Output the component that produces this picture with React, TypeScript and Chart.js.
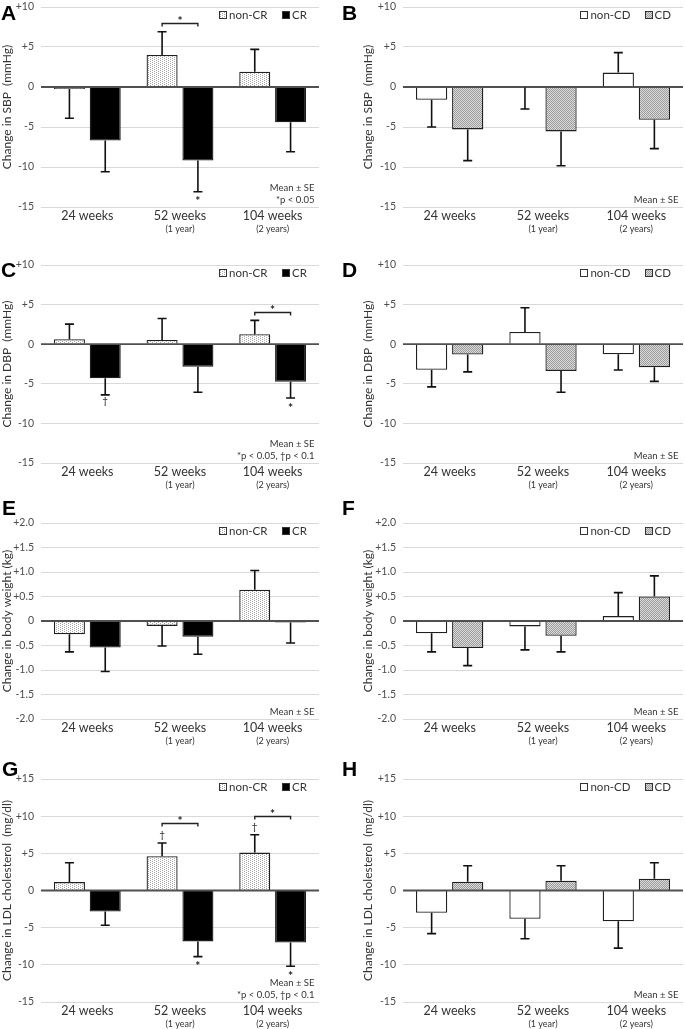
import React, { useEffect, useRef } from 'react';
import { Chart, registerables } from 'chart.js';
Chart.register(...registerables);

const FONT = 'Lato, "Open Sans", sans-serif';

const categories = ['24 weeks', '52 weeks', '104 weeks'];
const subLabels = ['', '(1 year)', '(2 years)'];

const bpTicks = [-15, -10, -5, 0, 5, 10];
const bwTicks = [-2, -1.5, -1, -0.5, 0, 0.5, 1, 1.5, 2];
const ldlTicks = [-15, -10, -5, 0, 5, 10, 15];

// A: SBP by CR
const sbpNonCR = [-0.25, 4.0, 1.9];
const sbpNonCRSE = [3.65, 2.9, 2.8];
const sbpCR = [-6.7, -9.2, -4.4];
const sbpCRSE = [3.9, 3.9, 3.7];
// B: SBP by CD
const sbpNonCD = [-1.6, -0.05, 1.8];
const sbpNonCDSE = [3.4, 2.7, 2.5];
const sbpCD = [-5.3, -5.55, -4.1];
const sbpCDSE = [3.9, 4.3, 3.6];
// C: DBP by CR
const dbpNonCR = [0.63, 0.54, 1.26];
const dbpNonCRSE = [1.9, 2.7, 1.75];
const dbpCR = [-4.3, -2.86, -4.75];
const dbpCRSE = [2.1, 3.2, 2.05];
// D: DBP by CD
const dbpNonCD = [-3.24, 1.55, -1.26];
const dbpNonCDSE = [2.15, 3.05, 2.0];
const dbpCD = [-1.3, -3.37, -2.9];
const dbpCDSE = [2.2, 2.7, 1.8];
// E: body weight by CR
const bwNonCR = [-0.27, -0.1, 0.64];
const bwNonCRSE = [0.36, 0.41, 0.39];
const bwCR = [-0.54, -0.32, -0.03];
const bwCRSE = [0.49, 0.36, 0.42];
// F: body weight by CD
const bwNonCD = [-0.25, -0.11, 0.1];
const bwNonCDSE = [0.38, 0.48, 0.48];
const bwCD = [-0.55, -0.3, 0.5];
const bwCDSE = [0.36, 0.33, 0.42];
// G: LDL by CR
const ldlNonCR = [1.13, 4.6, 5.1];
const ldlNonCRSE = [2.6, 1.8, 2.4];
const ldlCR = [-2.84, -6.85, -7.0];
const ldlCRSE = [1.84, 2.05, 3.2];
// H: LDL by CD
const ldlNonCD = [-3.0, -3.8, -4.15];
const ldlNonCDSE = [2.8, 2.7, 3.6];
const ldlCD = [1.17, 1.3, 1.58];
const ldlCDSE = [2.16, 2.03, 2.16];

type Mark = { kind: 'bracket' | 'above' | 'below'; cat: number; ds?: number; at?: number; text: string };

const sbpCRMarks: Mark[] = [
  { kind: 'bracket', cat: 1, at: 8.04, text: '*' },
  { kind: 'below', cat: 1, ds: 1, text: '*' },
];
const dbpCRMarks: Mark[] = [
  { kind: 'bracket', cat: 2, at: 4.11, text: '*' },
  { kind: 'below', cat: 0, ds: 1, text: '†' },
  { kind: 'below', cat: 2, ds: 1, text: '*' },
];
const ldlCRMarks: Mark[] = [
  { kind: 'bracket', cat: 1, at: 9.08, text: '*' },
  { kind: 'bracket', cat: 2, at: 9.99, text: '*' },
  { kind: 'above', cat: 1, ds: 0, text: '†' },
  { kind: 'above', cat: 2, ds: 0, text: '†' },
  { kind: 'below', cat: 1, ds: 1, text: '*' },
  { kind: 'below', cat: 2, ds: 1, text: '*' },
];

const notesSig1 = ['Mean ± SE', '*p < 0.05'];
const notesSig2 = ['Mean ± SE', '*p < 0.05, †p < 0.1'];
const notesPlain = ['Mean ± SE'];

type Fill = 'dots' | 'black' | 'white' | 'grey';
type Series = { label: string; data: number[]; se: number[]; fill: Fill };
type PanelDef = {
  letter: string;
  letterX: number;
  letterY: number;
  x: number;
  y: number;
  w: number;
  h: number;
  chartTop: number;
  chartBottom: number;
  chartLeft: number;
  chartRight: number;
  yTitle: string;
  titlePad: number;
  ticks: number[];
  decimals: number;
  series: Series[];
  marks: Mark[];
  notes: string[];
};

const crSeries = (a: number[], ase: number[], b: number[], bse: number[]): Series[] => [
  { label: 'non-CR', data: a, se: ase, fill: 'dots' },
  { label: 'CR', data: b, se: bse, fill: 'black' },
];
const cdSeries = (a: number[], ase: number[], b: number[], bse: number[]): Series[] => [
  { label: 'non-CD', data: a, se: ase, fill: 'white' },
  { label: 'CD', data: b, se: bse, fill: 'grey' },
];

const LEFT = { x: 0, w: 340, chartLeft: 41, chartRight: 319, titlePad: 0 };
const RIGHT = { x: 340, w: 345, chartLeft: 63, chartRight: 343, titlePad: 21 };
const ROW1 = { y: 0, h: 245, chartTop: 7, chartBottom: 207 };
const ROW2 = { y: 250, h: 251, chartTop: 15, chartBottom: 213 };
const ROW3 = { y: 505, h: 252, chartTop: 18, chartBottom: 214 };
const ROW4 = { y: 765, h: 264, chartTop: 14, chartBottom: 237 };

const panels: PanelDef[] = [
  { letter: 'A', letterX: 2, letterY: 5, ...LEFT, ...ROW1, yTitle: 'Change in SBP  (mmHg)', ticks: bpTicks, decimals: 0,
    series: crSeries(sbpNonCR, sbpNonCRSE, sbpCR, sbpCRSE), marks: sbpCRMarks, notes: notesSig1 },
  { letter: 'B', letterX: 343, letterY: 5, ...RIGHT, ...ROW1, yTitle: 'Change in SBP  (mmHg)', ticks: bpTicks, decimals: 0,
    series: cdSeries(sbpNonCD, sbpNonCDSE, sbpCD, sbpCDSE), marks: [], notes: notesPlain },
  { letter: 'C', letterX: 2, letterY: 262, ...LEFT, ...ROW2, yTitle: 'Change in DBP  (mmHg)', ticks: bpTicks, decimals: 0,
    series: crSeries(dbpNonCR, dbpNonCRSE, dbpCR, dbpCRSE), marks: dbpCRMarks, notes: notesSig2 },
  { letter: 'D', letterX: 343, letterY: 262, ...RIGHT, ...ROW2, yTitle: 'Change in DBP  (mmHg)', ticks: bpTicks, decimals: 0,
    series: cdSeries(dbpNonCD, dbpNonCDSE, dbpCD, dbpCDSE), marks: [], notes: notesPlain },
  { letter: 'E', letterX: 3, letterY: 500, ...LEFT, ...ROW3, yTitle: 'Change in body weight (kg)', ticks: bwTicks, decimals: 1,
    series: crSeries(bwNonCR, bwNonCRSE, bwCR, bwCRSE), marks: [], notes: notesPlain },
  { letter: 'F', letterX: 343, letterY: 500, ...RIGHT, ...ROW3, yTitle: 'Change in body weight (kg)', ticks: bwTicks, decimals: 1,
    series: cdSeries(bwNonCD, bwNonCDSE, bwCD, bwCDSE), marks: [], notes: notesPlain },
  { letter: 'G', letterX: 3, letterY: 761, ...LEFT, ...ROW4, yTitle: 'Change in LDL cholesterol  (mg/dl)', ticks: ldlTicks, decimals: 0,
    series: crSeries(ldlNonCR, ldlNonCRSE, ldlCR, ldlCRSE), marks: ldlCRMarks, notes: notesSig2 },
  { letter: 'H', letterX: 343, letterY: 761, ...RIGHT, ...ROW4, yTitle: 'Change in LDL cholesterol  (mg/dl)', ticks: ldlTicks, decimals: 0,
    series: cdSeries(ldlNonCD, ldlNonCDSE, ldlCD, ldlCDSE), marks: [], notes: notesPlain },
];

function makePattern(cells: string[][]): CanvasPattern | string {
  const c = document.createElement('canvas');
  c.width = cells[0].length;
  c.height = cells.length;
  const g = c.getContext('2d');
  if (!g) return '#ddd';
  cells.forEach((row, yy) =>
    row.forEach((col, xx) => {
      g.fillStyle = col;
      g.fillRect(xx, yy, 1, 1);
    })
  );
  return g.createPattern(c, 'repeat') || '#ddd';
}

function makeFills(): Record<Fill, CanvasPattern | string> {
  const W = '#ffffff';
  const d = '#a6a6a6';
  const g1 = '#9a9a9a';
  const g2 = '#dcdcdc';
  return {
    dots: makePattern([
      [d, W, W, W],
      [W, W, d, W],
      [d, W, W, W],
      [W, W, d, W],
    ]),
    black: '#000000',
    white: '#ffffff',
    grey: makePattern([
      [g1, g2],
      [g2, g1],
    ]),
  };
}

function drawCentered(ctx: CanvasRenderingContext2D, text: string, x: number, cy: number, font: string) {
  ctx.font = font;
  ctx.textAlign = 'center';
  ctx.textBaseline = 'alphabetic';
  const m = ctx.measureText(text);
  const asc = m.actualBoundingBoxAscent || 0;
  const desc = m.actualBoundingBoxDescent || 0;
  ctx.fillText(text, x, cy + (asc - desc) / 2);
}

function overlayPlugin(p: PanelDef, fills: Record<Fill, CanvasPattern | string>) {
  return {
    id: 'overlay' + p.letter,
    afterDatasetsDraw(chart: any) {
      const ctx: CanvasRenderingContext2D = chart.ctx;
      const area = chart.chartArea;
      const ys = chart.scales.y;
      const xs = chart.scales.x;
      ctx.save();
      // zero axis line
      const y0 = ys.getPixelForValue(0);
      ctx.strokeStyle = '#505050';
      ctx.lineWidth = 1.8;
      ctx.beginPath();
      ctx.moveTo(area.left, y0);
      ctx.lineTo(area.right, y0);
      ctx.stroke();

      // error bars
      const ends: number[][] = [];
      ctx.strokeStyle = '#111111';
      ctx.lineWidth = 1.6;
      p.series.forEach((s, di) => {
        const meta = chart.getDatasetMeta(di);
        ends[di] = [];
        meta.data.forEach((bar: any, i: number) => {
          const v = s.data[i];
          const e = v >= 0 ? v + s.se[i] : v - s.se[i];
          const py = ys.getPixelForValue(e);
          ends[di][i] = py;
          ctx.beginPath();
          ctx.moveTo(bar.x, bar.y);
          ctx.lineTo(bar.x, py);
          ctx.moveTo(bar.x - 4.5, py);
          ctx.lineTo(bar.x + 4.5, py);
          ctx.stroke();
        });
      });

      // significance marks
      ctx.fillStyle = '#1a1a1a';
      p.marks.forEach((m) => {
        const font = m.text === '*' ? `bold 12px ${FONT}` : `10px ${FONT}`;
        if (m.kind === 'bracket') {
          const x1 = chart.getDatasetMeta(0).data[m.cat].x;
          const x2 = chart.getDatasetMeta(1).data[m.cat].x;
          const py = Math.round(ys.getPixelForValue(m.at as number)) + 0.5;
          ctx.strokeStyle = '#222222';
          ctx.lineWidth = 1.4;
          ctx.beginPath();
          ctx.moveTo(x1, py + 3);
          ctx.lineTo(x1, py);
          ctx.lineTo(x2, py);
          ctx.lineTo(x2, py + 3);
          ctx.stroke();
          drawCentered(ctx, m.text, (x1 + x2) / 2, py - 6, font);
        } else {
          const ds = m.ds as number;
          const bx = chart.getDatasetMeta(ds).data[m.cat].x;
          const py = ends[ds][m.cat];
          drawCentered(ctx, m.text, bx, m.kind === 'below' ? py + 6.5 : py - 7.5, font);
        }
      });

      // notes
      ctx.font = `9.5px ${FONT}`;
      ctx.fillStyle = '#333333';
      ctx.textAlign = 'right';
      ctx.textBaseline = 'middle';
      const n = p.notes.length;
      p.notes.forEach((t, i) => {
        const fromBottom = n - 1 - i;
        ctx.fillText(t, area.right - 4.5, area.bottom - 7.5 - fromBottom * 11.5);
      });

      // legend (inside plot, top right)
      ctx.font = `11.5px ${FONT}`;
      const ly = area.top + 8;
      let xr = area.right - 12;
      for (let i = p.series.length - 1; i >= 0; i--) {
        const s = p.series[i];
        const tw = ctx.measureText(s.label).width;
        const tx = xr - tw;
        ctx.fillStyle = '#333333';
        ctx.textAlign = 'left';
        ctx.textBaseline = 'middle';
        ctx.fillText(s.label, tx, ly);
        const bx = Math.round(tx - 10) + 0.5;
        const by = Math.round(ly - 4) + 0.5;
        ctx.fillStyle = fills[s.fill] as any;
        ctx.fillRect(bx, by, 7, 7);
        ctx.strokeStyle = '#333333';
        ctx.lineWidth = 1;
        ctx.strokeRect(bx, by, 7, 7);
        xr = bx - 15;
      }

      // sub labels below categories
      ctx.font = `9px ${FONT}`;
      ctx.fillStyle = '#333333';
      ctx.textAlign = 'center';
      ctx.textBaseline = 'middle';
      subLabels.forEach((t, i) => {
        if (!t) return;
        ctx.fillText(t, xs.getPixelForValue(i), area.bottom + 22);
      });
      ctx.restore();
    },
  };
}

function fmt(v: number, decimals: number): string {
  if (Math.abs(v) < 1e-9) return '0';
  const s = v.toFixed(decimals);
  return v > 0 ? '+' + s : s;
}

function Panel({ p }: { p: PanelDef }) {
  const ref = useRef<HTMLCanvasElement>(null);
  useEffect(() => {
    if (!ref.current) return;
    const fills = makeFills();
    const chart = new Chart(ref.current, {
      type: 'bar',
      data: {
        labels: categories,
        datasets: p.series.map((s) => ({
          label: s.label,
          data: s.data,
          backgroundColor: fills[s.fill] as any,
          borderColor: '#1f1f1f',
          borderWidth: 1.3,
          categoryPercentage: 0.773,
          barPercentage: 0.866,
        })),
      },
      options: {
        responsive: false,
        animation: false,
        devicePixelRatio: 1,
        layout: { padding: { top: p.chartTop, right: p.w - p.chartRight, bottom: 0, left: 0 } },
        plugins: { legend: { display: false }, tooltip: { enabled: false } },
        scales: {
          x: {
            grid: { display: false, drawTicks: false },
            border: { display: false },
            ticks: { font: { family: FONT, size: 12.5 }, color: '#333333', padding: 1, maxRotation: 0, autoSkip: false },
            afterFit: (s: any) => {
              s.height = p.h - p.chartBottom;
              s.paddingLeft = 0;
              s.paddingRight = 0;
            },
          },
          y: {
            min: p.ticks[0],
            max: p.ticks[p.ticks.length - 1],
            afterBuildTicks: (s: any) => {
              s.ticks = p.ticks.map((v) => ({ value: v }));
            },
            ticks: {
              callback: (v: any) => fmt(Number(v), p.decimals),
              font: { family: FONT, size: 10.5 },
              color: '#4d4d4d',
              padding: 7,
            },
            grid: {
              drawTicks: false,
              color: (c: any) => (c.tick && Math.abs(c.tick.value) < 1e-9 ? 'rgba(0,0,0,0)' : '#d9d9d9'),
              lineWidth: 1,
            },
            border: { display: false },
            title: {
              display: true,
              text: p.yTitle,
              font: { family: FONT, size: 12 },
              color: '#333333',
              padding: { top: p.titlePad, bottom: 0 },
            },
            afterFit: (s: any) => {
              s.width = p.chartLeft;
              s.paddingTop = 0;
              s.paddingBottom = 0;
            },
          },
        },
      },
      plugins: [overlayPlugin(p, fills)],
    } as any);
    return () => chart.destroy();
  }, []);
  return (
    <canvas
      ref={ref}
      width={p.w}
      height={p.h}
      style={{ position: 'absolute', left: p.x, top: p.y, width: p.w, height: p.h }}
    />
  );
}

export default function App() {
  return (
    <div style={{ position: 'absolute', left: 0, top: 0, width: 685, height: 1029, background: '#fff', overflow: 'hidden' }}>
      {panels.map((p) => (
        <Panel key={p.letter} p={p} />
      ))}
      {panels.map((p) => (
        <div
          key={'L' + p.letter}
          style={{
            position: 'absolute',
            left: p.letterX - 1,
            top: p.letterY - 3,
            fontFamily: '"Liberation Sans", Arial, sans-serif',
            fontWeight: 'bold',
            fontSize: 21,
            lineHeight: '21px',
            color: '#000',
          }}
        >
          {p.letter}
        </div>
      ))}
    </div>
  );
}
